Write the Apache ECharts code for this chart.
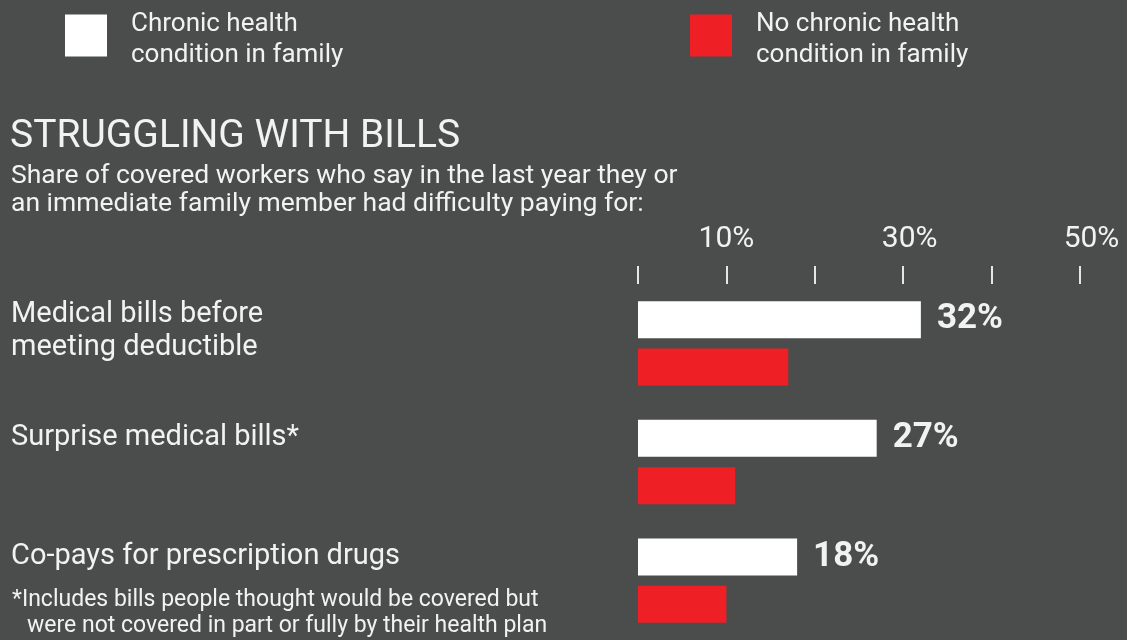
<!DOCTYPE html>
<html>
<head>
<meta charset="utf-8">
<script src="https://cdn.jsdelivr.net/npm/echarts@6/dist/echarts.min.js"></script>
<style>
  html, body { margin: 0; padding: 0; background: #4b4d4d; }
  #chart { width: 1127px; height: 640px; }
</style>
</head>
<body>
<div id="chart"></div>
<script>
// categories, top to bottom
var categories = ['Medical bills before\nmeeting deductible', 'Surprise medical bills*', 'Co-pays for prescription drugs'];
var seriesNames = ['Chronic health condition in family', 'No chronic health condition in family'];
var chronicValues = [32, 27, 18];
var noChronicValues = [17, 11, 10];
// only these ticks get a label
var tickLabels = [10, 30, 50];

var FONT = 'Roboto';
var TEXT = '#f2f2f2';
var RED = '#ee1f25';

var chart = echarts.init(document.getElementById('chart'));

// two-line legend text, small blank line on top pushes it down a bit
function legendName(name) {
  var parts = name.replace(' condition', '\ncondition').split('\n');
  return '{s| }\n' + parts.map(function (p) { return '{t|' + p + '}'; }).join('\n');
}

var legendBase = {
  orient: 'horizontal',
  top: 0,
  padding: 0,
  icon: 'rect',
  itemWidth: 42,
  itemHeight: 42,
  selectedMode: false,
  formatter: legendName,
  textStyle: {
    fontFamily: FONT, fontSize: 26, lineHeight: 31, color: TEXT, padding: [0, 0, 0, 19],
    rich: {
      s: { fontSize: 6, lineHeight: 9 },
      t: { fontFamily: FONT, fontSize: 26, lineHeight: 31, color: TEXT }
    }
  }
};

var option = {
  backgroundColor: '#4b4d4d',
  animation: false,
  textStyle: { fontFamily: FONT },
  title: [
    {
      text: 'STRUGGLING WITH BILLS',
      left: 10, top: 118, padding: 0,
      textStyle: { fontFamily: FONT, fontSize: 39, lineHeight: 39, fontWeight: 'normal', color: TEXT }
    },
    {
      text: 'Share of covered workers who say in the last year they or\nan immediate family member had difficulty paying for:',
      left: 11, top: 162, padding: 0,
      textStyle: { fontFamily: FONT, fontSize: 26.5, lineHeight: 28, fontWeight: 'normal', color: TEXT }
    },
    {
      text: '*Includes bills people thought would be covered but',
      left: 12, top: 587, padding: 0,
      textStyle: { fontFamily: FONT, fontSize: 23, lineHeight: 26, fontWeight: 'normal', color: TEXT }
    },
    {
      text: 'were not covered in part or fully by their health plan',
      left: 27, top: 613, padding: 0,
      textStyle: { fontFamily: FONT, fontSize: 23, lineHeight: 26, fontWeight: 'normal', color: TEXT }
    }
  ],
  legend: [
    Object.assign({}, legendBase, { data: [seriesNames[0]], left: 65 }),
    Object.assign({}, legendBase, { data: [seriesNames[1]], left: 690 })
  ],
  grid: { left: 638, top: 284, width: 442, height: 359, containLabel: false },
  xAxis: {
    type: 'value',
    position: 'top',
    min: 0,
    max: 50,
    interval: 10,
    axisLine: { show: false },
    splitLine: { show: false },
    axisTick: { show: true, length: 18, lineStyle: { color: '#e6e6e6', width: 2 } },
    axisLabel: {
      margin: 30,
      color: TEXT,
      fontFamily: FONT,
      fontSize: 30,
      formatter: function (v) {
        var i = tickLabels.indexOf(v);
        if (i < 0) return '';
        return '{p' + i + '|' + v + '%}';
      },
      rich: {
        p0: { fontSize: 30, color: TEXT, fontFamily: FONT },
        p1: { fontSize: 30, color: TEXT, fontFamily: FONT, padding: [0, 0, 0, 13] },
        p2: { fontSize: 30, color: TEXT, fontFamily: FONT, padding: [0, 0, 0, 23] }
      }
    }
  },
  yAxis: {
    type: 'category',
    inverse: true,
    data: categories,
    axisLine: { show: false },
    axisTick: { show: false },
    splitLine: { show: false },
    axisLabel: {
      align: 'left',
      margin: 627,
      color: TEXT,
      fontFamily: FONT,
      fontSize: 29,
      formatter: function (value) {
        var lines = value.split('\n');
        var s = lines.map(function (l) { return '{t|' + l + '}'; }).join('\n');
        // blank tail line lifts the text up to the white bar
        return s + '\n{' + (lines.length > 1 ? 'g2' : 'g1') + '| }';
      },
      rich: {
        t: { fontSize: 29, lineHeight: 33, color: TEXT, fontFamily: FONT },
        g1: { fontSize: 10, lineHeight: 48 },
        g2: { fontSize: 10, lineHeight: 25 }
      }
    }
  },
  series: [
    {
      name: seriesNames[0],
      type: 'bar',
      data: chronicValues,
      barWidth: 37,
      barGap: '28%',
      itemStyle: { color: '#ffffff' },
      label: {
        show: true,
        position: 'right',
        distance: 16,
        formatter: '{c}%',
        fontFamily: FONT,
        fontSize: 35,
        fontWeight: 'bold',
        color: TEXT
      }
    },
    {
      name: seriesNames[1],
      type: 'bar',
      data: noChronicValues,
      barWidth: 37,
      barGap: '28%',
      itemStyle: { color: RED }
    }
  ]
};

chart.setOption(option);
window.addEventListener('resize', function () { chart.resize(); });
</script>
</body>
</html>
